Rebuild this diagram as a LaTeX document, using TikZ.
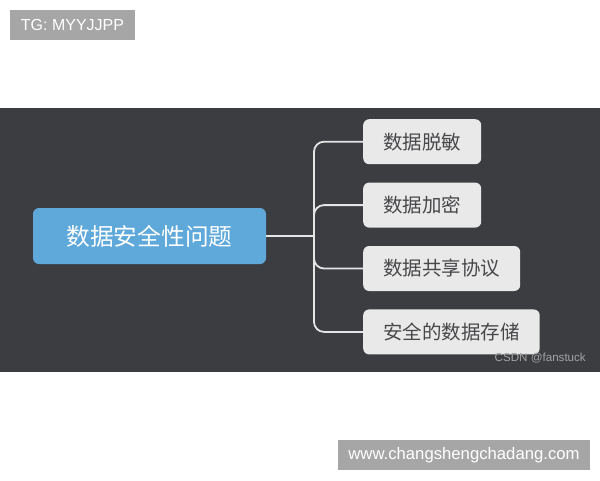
\documentclass[tikz,border=0pt]{standalone}
\usepackage{fontspec}
\usepackage{xcolor}
\usepackage{tikz}
\usetikzlibrary{positioning,backgrounds}
\setmainfont{Liberation Sans}
\newfontfamily\cjk{Noto Sans CJK SC}
\definecolor{band}{RGB}{60, 61, 65}
\definecolor{rootblue}{RGB}{94, 168, 218}
\definecolor{leafgray}{RGB}{233, 233, 234}
\definecolor{leaftext}{RGB}{72, 72, 74}
\definecolor{tagbg}{RGB}{166, 166, 166}
\tikzstyle{root} = [rectangle, rounded corners=6pt, fill=rootblue, text=white, font=\cjk\fontsize{23.7}{26}\selectfont, minimum width=233pt, minimum height=56pt, inner sep=0pt]
\tikzstyle{leaf} = [rectangle, rounded corners=6pt, fill=leafgray, text=leaftext, font=\cjk\fontsize{19.5}{22}\selectfont, minimum height=45pt, inner xsep=20pt, inner ysep=0pt]
\tikzstyle{tag} = [rectangle, fill=tagbg, text=white, inner sep=0pt, minimum height=30pt]
\tikzstyle{tedge} = [draw, line width=1.8pt, color=white!90!black, rounded corners=10pt]

\begin{document}
\begin{tikzpicture}[x=1pt, y=-1pt]
\useasboundingbox[fill=white] (0,0) rectangle (600,480);

% dark band =============================
\fill[band] (0,108) rectangle (600,372);

% mind map nodes
\node[root] (issue) at (149.5,236) {数据安全性问题};
\node[leaf, anchor=north west] (mask) at (363,119) {数据脱敏};
\node[leaf, below=18pt of mask.south west, anchor=north west] (encrypt) {数据加密};
\node[leaf, below=18pt of encrypt.south west, anchor=north west] (share) {数据共享协议};
\node[leaf, below=18pt of share.south west, anchor=north west] (store) {安全的数据存储};

% edges
\coordinate (trunk) at (314,236);
\path[tedge] (issue.east) -- (trunk);
\path[tedge] (trunk) |- (mask.west);
\path[tedge] (trunk) |- (encrypt.west);
\path[tedge] (trunk) |- (share.west);
\path[tedge] (trunk) |- (store.west);

% labels
\node[text=white!64!black, font=\fontsize{11.6}{13}\selectfont, anchor=east, inner sep=0pt] (csdn) at (586,358) {CSDN @fanstuck};
\node[tag, minimum width=125pt, font=\fontsize{16}{18}\selectfont] (tg) at (72.5,25) {TG: MYYJJPP};
\node[tag, minimum width=252pt, font=\fontsize{16.7}{18}\selectfont] (site) at (464,455) {www.changshengchadang.com};

\end{tikzpicture}
\end{document}
